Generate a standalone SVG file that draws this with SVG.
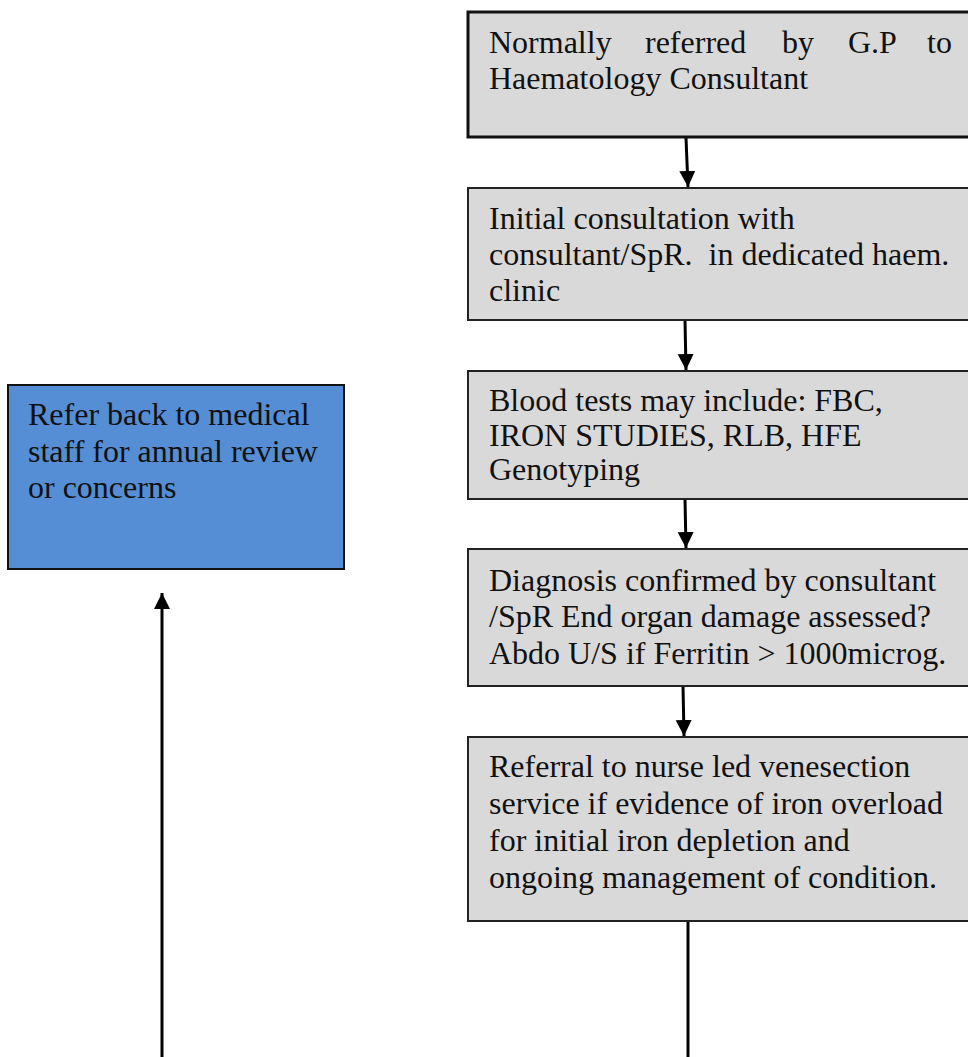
<svg xmlns="http://www.w3.org/2000/svg" width="968" height="1057" viewBox="0 0 968 1057">
<defs>
<marker id="ah" markerUnits="userSpaceOnUse" markerWidth="16" markerHeight="18" viewBox="0 0 16 18" refX="16" refY="8" orient="auto">
<path d="M0,0 L16,8 L0,16 Z" fill="#000"/>
</marker>
<style>
.g{fill:#d9d9d9;stroke:#222;stroke-width:2}
.b{fill:#558ed5;stroke:#111;stroke-width:2}
.t{font-family:"Liberation Serif","Times New Roman",serif;font-size:32px;fill:#111}
.c{stroke:#000;stroke-width:3;fill:none}
</style>
</defs>
<rect width="968" height="1057" fill="#fff"/>
<g id="connectors">
<line class="c" x1="686" y1="138" x2="688" y2="187" marker-end="url(#ah)"/>
<line class="c" x1="685" y1="320" x2="686" y2="370" marker-end="url(#ah)"/>
<line class="c" x1="685" y1="499" x2="686" y2="548" marker-end="url(#ah)"/>
<line class="c" x1="683" y1="686" x2="684" y2="736" marker-end="url(#ah)"/>
<line class="c" x1="688" y1="921" x2="688" y2="1057"/>
<line class="c" x1="162" y1="1057" x2="162" y2="593" marker-end="url(#ah)"/>
</g>
<g id="n1">
<rect x="468" y="12" width="510" height="125" fill="#d9d9d9" stroke="#111" stroke-width="3"/>
<text class="t"><tspan x="489" y="53">Normally</tspan><tspan x="645" y="53">referred</tspan><tspan x="782" y="53">by</tspan><tspan x="848" y="53">G.P</tspan><tspan x="927" y="53">to</tspan><tspan x="489" y="89">Haematology Consultant</tspan></text>
</g>
<g id="n2">
<rect class="g" x="468" y="188" width="510" height="132"/>
<text class="t"><tspan x="489" y="229">Initial consultation with</tspan><tspan x="489" y="265">consultant/SpR.&#160; in dedicated haem.</tspan><tspan x="489" y="301">clinic</tspan></text>
</g>
<g id="n3">
<rect class="g" x="468" y="371" width="510" height="128"/>
<text class="t"><tspan x="489" y="411">Blood tests may include: FBC,</tspan><tspan x="489" y="446">IRON STUDIES, RLB, HFE</tspan><tspan x="489" y="480">Genotyping</tspan></text>
</g>
<g id="n4">
<rect class="g" x="468" y="549" width="510" height="137"/>
<text class="t"><tspan x="489" y="591">Diagnosis confirmed by consultant</tspan><tspan x="489" y="627">/SpR End organ damage assessed?</tspan><tspan x="489" y="664">Abdo U/S if Ferritin &gt; 1000microg.</tspan></text>
</g>
<g id="n5">
<rect class="g" x="468" y="737" width="510" height="184"/>
<text class="t"><tspan x="489" y="777">Referral to nurse led venesection</tspan><tspan x="489" y="814">service if evidence of iron overload</tspan><tspan x="489" y="851">for initial iron depletion and</tspan><tspan x="489" y="888">ongoing management of condition.</tspan></text>
</g>
<g id="n6">
<rect class="b" x="8" y="385" width="336" height="184"/>
<text class="t"><tspan x="28" y="425">Refer back to medical</tspan><tspan x="28" y="462">staff for annual review</tspan><tspan x="28" y="498">or concerns</tspan></text>
</g>
</svg>
